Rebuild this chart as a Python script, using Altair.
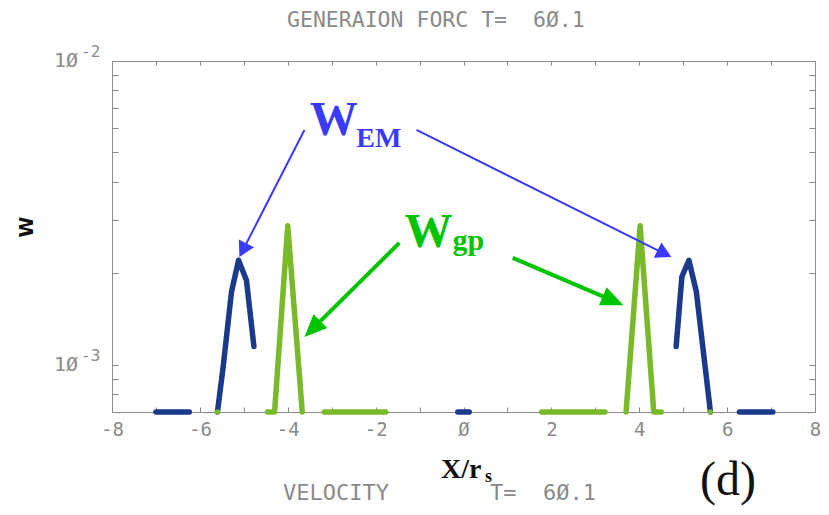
import math
import altair as alt
import pandas as pd

# ---------------- data ----------------
LOW = 5e-4  # values below the plotted range (drawn on the axis)

# W_EM (dark blue) segments
em_x = [[-7.0, -6.24],
        [-5.6, -5.47, -5.28, -5.12, -4.94, -4.77],
        [-0.13, 0.13],
        [4.84, 4.97, 5.13, 5.30, 5.62],
        [6.28, 7.04]]
em_w = [[LOW, LOW],
        [LOW, 9.85e-4, 1.74e-3, 2.21e-3, 1.90e-3, 1.15e-3],
        [LOW, LOW],
        [1.15e-3, 1.95e-3, 2.21e-3, 1.74e-3, LOW],
        [LOW, LOW]]

# W_gp (green) segments
gp_x = [[-4.46, -4.30, -4.0, -3.67],
        [-3.17, -1.77],
        [1.78, 3.22],
        [3.70, 4.02, 4.33, 4.50]]
gp_w = [[LOW, LOW, 2.87e-3, LOW],
        [LOW, LOW],
        [LOW, LOW],
        [LOW, 2.87e-3, LOW, LOW]]
gp_dot_x = [-5.6, 5.62]
gp_dot_w = [LOW, LOW]

x_tick_values = list(range(-8, 9))
y_tick_values = [8e-4, 9e-4, 1e-3, 2e-3, 3e-3, 4e-3, 5e-3, 6e-3, 7e-3, 8e-3, 9e-3]
y_label_values = [1e-2, 1e-3]
y_label_base = ["1Ø", "1Ø"]
y_label_exp = ["-2", "-3"]

NB = "\u00a0"
title_text = "GENERAION FORC T=" + NB + NB + "6Ø.1"
bottom_left_text = "VELOCITY"
bottom_right_text = "T=" + NB + NB + "6Ø.1"
panel_text = "(d)"

# annotation arrows (start -> tip), in data units
blue_arrows = [((-3.62, 5.93e-3), (-5.10, 2.265e-3)),
               ((-1.07, 5.93e-3), (4.73, 2.265e-3))]
green_arrows = [((-1.46, 2.52e-3), (-3.62, 1.236e-3)),
                ((1.12, 2.25e-3), (3.64, 1.573e-3))]

# annotation labels
ann_text = ["W", "EM", "W", "gp"]
ann_x = [-3.50, -2.44, -1.34, -0.25]
ann_w = [5.71e-3, 5.21e-3, 2.44e-3, 2.39e-3]
ann_size = [48, 28, 48, 30]
ann_color = ["#3a3aff", "#3a3aff", "#00c400", "#00c400"]

# ---------------- layout / styles ----------------
W_PX, H_PX = 703, 351
XD = [-8, 8]
YD = [7e-4, 1e-2]
BLUE = "#1c3a8c"
GREEN = "#78ba2a"
GRAY = "#8a8a8a"
MONO = "DejaVu Sans Mono"
SERIF = "Liberation Serif"


def to_px(x, w):
    lx = (x - XD[0]) / (XD[1] - XD[0]) * W_PX
    ly = (math.log10(YD[1]) - math.log10(w)) / (math.log10(YD[1]) - math.log10(YD[0])) * H_PX
    return lx, ly


def from_px(px, py):
    x = XD[0] + px / W_PX * (XD[1] - XD[0])
    lw = math.log10(YD[1]) - py / H_PX * (math.log10(YD[1]) - math.log10(YD[0]))
    return x, 10 ** lw


def arrow_frames(arrows, cut):
    rules, heads = [], []
    for (s, t) in arrows:
        sx, sy = to_px(*s)
        tx, ty = to_px(*t)
        L = math.hypot(tx - sx, ty - sy)
        ex, ey = tx - (tx - sx) / L * cut, ty - (ty - sy) / L * cut
        xe, we = from_px(ex, ey)
        rules.append({"x0": s[0], "w0": s[1], "x1": xe, "w1": we})
        ang = math.degrees(math.atan2(tx - sx, -(ty - sy))) % 360
        heads.append({"x": t[0], "W": t[1], "ang": ang})
    return pd.DataFrame(rules), pd.DataFrame(heads)


def seg_frame(xs_list, ws_list):
    rows = []
    for i, (xs, ws) in enumerate(zip(xs_list, ws_list)):
        for x, w in zip(xs, ws):
            rows.append({"x": x, "W": w, "seg": i})
    return pd.DataFrame(rows)


em_df = seg_frame(em_x, em_w)
gp_df = seg_frame(gp_x, gp_w)
dot_df = pd.DataFrame({"x": gp_dot_x, "W": gp_dot_w})
b_rules, b_heads = arrow_frames(blue_arrows, 5)
g_rules, g_heads = arrow_frames(green_arrows, 9)
ann_df = pd.DataFrame({"t": ann_text, "x": ann_x, "W": ann_w, "fs": ann_size, "c": ann_color})
ylab_df = pd.DataFrame({"W": y_label_values, "base": y_label_base, "exp": y_label_exp})

xscale = alt.Scale(domain=XD, nice=False, zero=False)
yscale = alt.Scale(type="log", domain=YD, nice=False, clamp=True)

label_expr = "datum.value % 2 != 0 ? '' : (datum.value == 0 ? 'Ø' : toString(datum.value))"

x_bottom = alt.Axis(orient="bottom", values=x_tick_values, offset=-5, tickSize=5, domain=False,
                    grid=False, title=None, labelExpr=label_expr, labelFont=MONO, labelFontSize=19,
                    labelColor=GRAY, tickColor=GRAY, labelPadding=8, labelFlush=False,
                    labelOverlap=False)
y_left = alt.Axis(orient="left", values=y_tick_values, offset=-6, tickSize=6, domain=False,
                  grid=False, title=None, labels=False, tickColor=GRAY)
x_top = alt.Axis(orient="top", values=x_tick_values, offset=-4, tickSize=4, domain=False,
                 grid=False, title=None, labels=False, tickColor=GRAY)
y_right = alt.Axis(orient="right", values=y_tick_values, offset=-6, tickSize=6, domain=False,
                   grid=False, title=None, labels=False, tickColor=GRAY)

em_line = alt.Chart(em_df).mark_line(color=BLUE, strokeWidth=5.5, strokeCap="round",
                                     strokeJoin="round").encode(
    x=alt.X("x:Q", scale=xscale, axis=x_bottom),
    y=alt.Y("W:Q", scale=yscale, axis=y_left),
    detail="seg:N",
)
gp_line = alt.Chart(gp_df).mark_line(color=GREEN, strokeWidth=5.5, strokeCap="round",
                                     strokeJoin="round").encode(
    x=alt.X("x:Q", scale=xscale, axis=x_top),
    y=alt.Y("W:Q", scale=yscale, axis=y_right),
    detail="seg:N",
)
gp_dots = alt.Chart(dot_df).mark_circle(color=GREEN, size=28, opacity=1).encode(
    x=alt.X("x:Q", scale=xscale, axis=None),
    y=alt.Y("W:Q", scale=yscale, axis=None),
)


def rule_layer(df, color, width):
    return alt.Chart(df).mark_rule(color=color, strokeWidth=width).encode(
        x=alt.X("x0:Q", scale=xscale, axis=None),
        x2="x1:Q",
        y=alt.Y("w0:Q", scale=yscale, axis=None),
        y2="w1:Q",
    )


def head_layer(df, color, path, size):
    return alt.Chart(df).mark_point(filled=True, shape=path, size=size, color=color,
                                    opacity=1).encode(
        x=alt.X("x:Q", scale=xscale, axis=None),
        y=alt.Y("W:Q", scale=yscale, axis=None),
        angle=alt.Angle("ang:Q", scale=None),
    )


b_rule = rule_layer(b_rules, "#3a3aff", 2)
g_rule = rule_layer(g_rules, "#00c400", 4)
b_head = head_layer(b_heads, "#3a3aff", "M0,0L-1,1.8L1,1.8Z", 290)
g_head = head_layer(g_heads, "#00c400", "M0,0L-1,2.3L1,2.3Z", 380)

ann = alt.Chart(ann_df).mark_text(align="left", baseline="alphabetic", font=SERIF,
                                  fontWeight="bold").encode(
    x=alt.X("x:Q", scale=xscale, axis=None),
    y=alt.Y("W:Q", scale=yscale, axis=None),
    text="t:N",
    size=alt.Size("fs:Q", scale=None),
    color=alt.Color("c:N", scale=None),
)

ylab_base = alt.Chart(ylab_df).mark_text(align="right", baseline="middle", font=MONO,
                                         fontSize=20, color=GRAY).encode(
    x=alt.value(-34),
    y=alt.Y("W:Q", scale=yscale, axis=None),
    text="base:N",
)
ylab_exp = alt.Chart(ylab_df).mark_text(align="left", baseline="middle", font=MONO,
                                        fontSize=16, color=GRAY, dy=-9).encode(
    x=alt.value(-31),
    y=alt.Y("W:Q", scale=yscale, axis=None),
    text="exp:N",
)


def free_text(txt, px, py, **kw):
    return alt.Chart(pd.DataFrame({"t": [txt]})).mark_text(**kw).encode(
        x=alt.value(px), y=alt.value(py), text="t:N")


title_mark = free_text(title_text, 175, -34, align="left", baseline="alphabetic", font=MONO,
                       fontSize=21.5, color=GRAY)
vel_mark = free_text(bottom_left_text, 171, 439, align="left", baseline="alphabetic", font=MONO,
                     fontSize=22, color=GRAY)
tt_mark = free_text(bottom_right_text, 378, 439, align="left", baseline="alphabetic", font=MONO,
                    fontSize=22, color=GRAY)
d_mark = free_text(panel_text, 588, 434, align="left", baseline="alphabetic", font=SERIF,
                   fontSize=48, color="#111111")
xt_mark = free_text("X/r", 329, 417, align="left", baseline="alphabetic", font=SERIF,
                    fontSize=28, fontWeight="bold", color="#111111")
xs_mark = free_text("s", 373, 421, align="left", baseline="alphabetic", font=SERIF,
                    fontSize=18, fontWeight="bold", color="#111111")
yt_mark = free_text("W", -85, 166, align="center", baseline="middle", font="DejaVu Sans",
                    fontSize=19, fontWeight="bold", color="#111111", angle=270)

chart = alt.layer(
    em_line, gp_line, gp_dots, b_rule, g_rule, b_head, g_head, ann,
    ylab_base, ylab_exp, title_mark, vel_mark, tt_mark, d_mark, xt_mark, xs_mark, yt_mark,
).resolve_axis(x="independent", y="independent").properties(
    width=W_PX, height=H_PX,
    autosize=alt.AutoSizeParams(type="none"),
    padding={"left": 104, "top": 53, "right": 6, "bottom": 95},
    background="white",
).configure_view(stroke=GRAY, strokeWidth=1)

chart.save("out.html", embed_options={"renderer": "svg", "actions": False})
